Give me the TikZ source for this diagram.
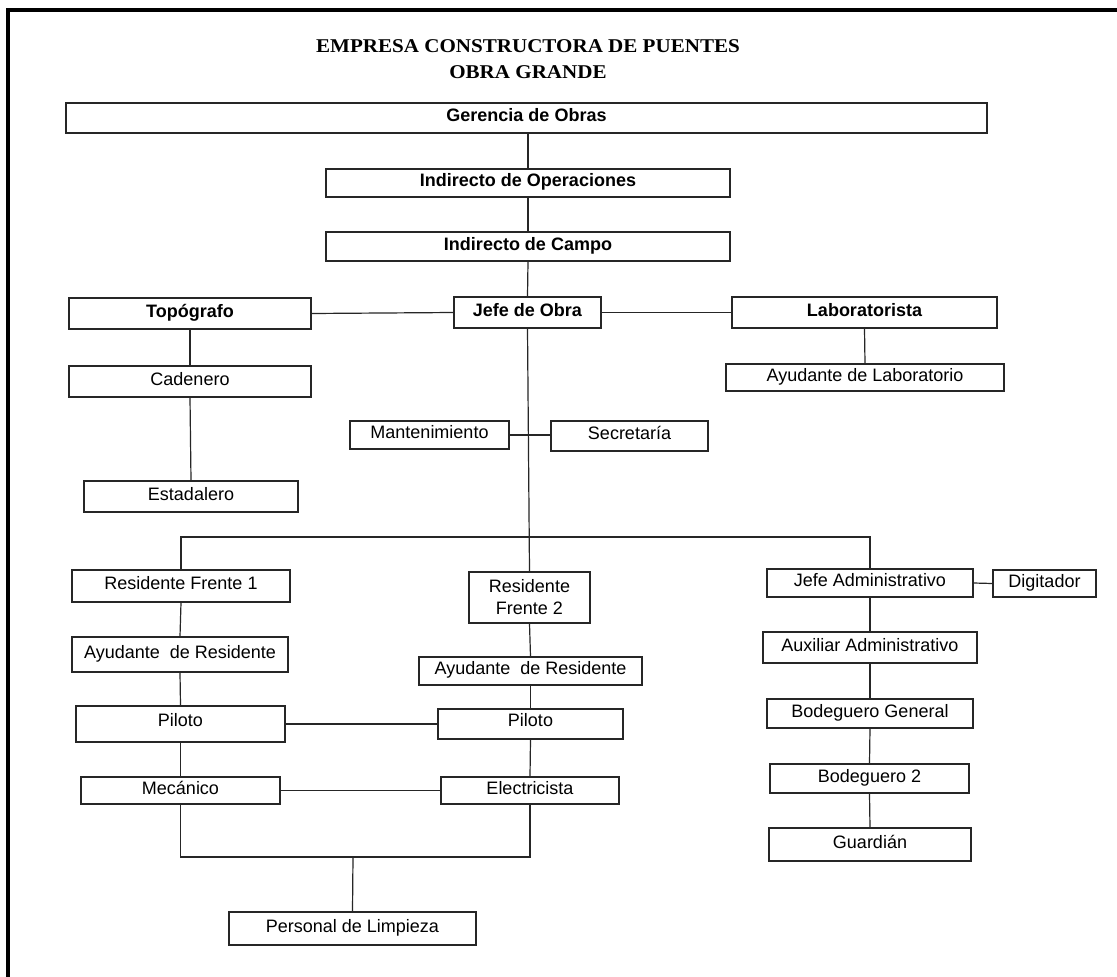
\documentclass[tikz,border=0pt]{standalone}
\usepackage{fontspec}
\setmainfont{Liberation Sans}
\newfontfamily\titlefont[FakeStretch=1.08]{Liberation Serif}
\begin{document}
\begin{tikzpicture}[x=1pt,y=-1pt,
  box/.style={draw=black!85, line width=1.2pt, rectangle, inner sep=0pt,
    font=\fontsize{18}{22}\selectfont, text height=13pt, text depth=6pt, align=center},
  bbox/.style={box, font=\fontsize{18}{22}\selectfont\bfseries},
  hibox/.style={box, text depth=9pt},
  link/.style={draw=black!85, line width=1.2pt},
  heading/.style={font=\fontsize{19.5}{22}\selectfont\titlefont\bfseries, anchor=base, inner sep=0pt}]
\useasboundingbox (0,0) rectangle (1117,977);
\fill[white] (0,0) rectangle (1117,977);
% page frame
\draw[line width=4pt] (7.5,979) -- (7.5,10) -- (1119,10);

% headings
\node[heading] (t1) at (528,52) {EMPRESA CONSTRUCTORA DE PUENTES};
\node[heading] (t2) at (528,78) {OBRA GRANDE};

% upper chain
\node[bbox, minimum width=921pt, minimum height=30pt] (ger) at (526.5,118) {Gerencia de Obras};
\node[bbox, minimum width=404pt, minimum height=28pt] (ops) at (528,183) {Indirecto de Operaciones};
\node[bbox, minimum width=404pt, minimum height=29pt] (campo) at (528,246.5) {Indirecto de Campo};
\node[bbox, minimum width=147pt, minimum height=31pt] (jefe) at (527.5,312.5) {Jefe de Obra};
\node[bbox, minimum width=242pt, minimum height=31pt] (topo) at (190,313.5) {Topógrafo};
\node[bbox, minimum width=265pt, minimum height=31pt] (lab) at (864.5,312.5) {Laboratorista};

% survey and lab staff
\node[box, minimum width=242pt, minimum height=31pt] (cad) at (190,381.5) {Cadenero};
\node[box, minimum width=214pt, minimum height=31pt] (esta) at (191,496.5) {Estadalero};
\node[box, minimum width=278pt, minimum height=27pt] (aylab) at (865,377.5) {Ayudante de Laboratorio};
\node[box, minimum width=159pt, minimum height=28pt] (mant) at (429.5,435) {Mantenimiento};
\node[box, minimum width=157pt, minimum height=30pt] (secr) at (629.5,436) {Secretaría};

% front 1
\node[box, minimum width=218pt, minimum height=32pt] (rf1) at (181,586) {Residente Frente 1};
\node[box, minimum width=216pt, minimum height=35pt] (ay1) at (180,654.5) {Ayudante\ \ de Residente};
\node[hibox, minimum width=209pt, minimum height=36pt] (pil1) at (180.5,724) {Piloto};
\node[box, minimum width=199pt, minimum height=27pt] (mec) at (180.5,790.5) {Mecánico};

% front 2
\node[box, minimum width=121pt, minimum height=51pt, text height=, text depth=] (rf2) at (529.5,597.5) {Residente\\Frente 2};
\node[box, minimum width=223pt, minimum height=28pt] (ay2) at (530.5,671) {Ayudante\ \ de Residente};
\node[hibox, minimum width=185pt, minimum height=30pt] (pil2) at (530.5,724) {Piloto};
\node[box, minimum width=178pt, minimum height=27pt] (elec) at (530,790.5) {Electricista};
\node[box, minimum width=247pt, minimum height=33pt] (limp) at (352.5,928.5) {Personal de Limpieza};

% administration
\node[box, minimum width=206pt, minimum height=28pt] (jadm) at (870,583) {Jefe Administrativo};
\node[box, minimum width=103pt, minimum height=27pt] (dig) at (1044.5,583.5) {Digitador};
\node[box, minimum width=214pt, minimum height=31pt] (aux) at (870,647.5) {Auxiliar Administrativo};
\node[box, minimum width=206pt, minimum height=29pt] (bodg) at (870,713.5) {Bodeguero General};
\node[box, minimum width=199pt, minimum height=29pt] (bod2) at (869.5,778.5) {Bodeguero 2};
\node[box, minimum width=202pt, minimum height=33pt] (guard) at (870,844.5) {Guardián};

\coordinate (bus) at (530,537);
\coordinate (lowbus) at (353,857);

% connectors
\draw[link] (ops.north |- ger.south) -- (ops.north);
\draw[link] (ops.south) -- (campo.north);
\draw[link] (campo.south) -- (jefe.north);
\draw[link] (topo.east) -- (jefe.west);
\draw[link] (jefe.east) -- (lab.west);
\draw[link] (topo.south) -- (cad.north);
\draw[link] (cad.south) -- (esta.north);
\draw[link] (lab.south) -- (aylab.north);
\draw[link] (mant.east) -- (secr.west |- mant.east);
\draw[link] (jefe.south) -- (rf2.north);
\draw[link] (rf1.north) |- (bus) -| (jadm.north);
\draw[link] (rf1.south) -- (ay1.north);
\draw[link] (ay1.south) -- (pil1.north);
\draw[link] (pil1.south) -- (mec.north);
\draw[link] (rf2.south) -- (ay2.north);
\draw[link] (ay2.south) -- (pil2.north);
\draw[link] (pil2.south) -- (elec.north);
\draw[link] (pil1.east) -- (pil2.west);
\draw[link] (mec.east) -- (elec.west);
\draw[link] (mec.south) |- (lowbus) -| (elec.south);
\draw[link] (lowbus) -- (limp.north);
\draw[link] (jadm.east) -- (dig.west);
\draw[link] (jadm.south) -- (aux.north);
\draw[link] (aux.south) -- (bodg.north);
\draw[link] (bodg.south) -- (bod2.north);
\draw[link] (bod2.south) -- (guard.north);
\end{tikzpicture}
\end{document}
